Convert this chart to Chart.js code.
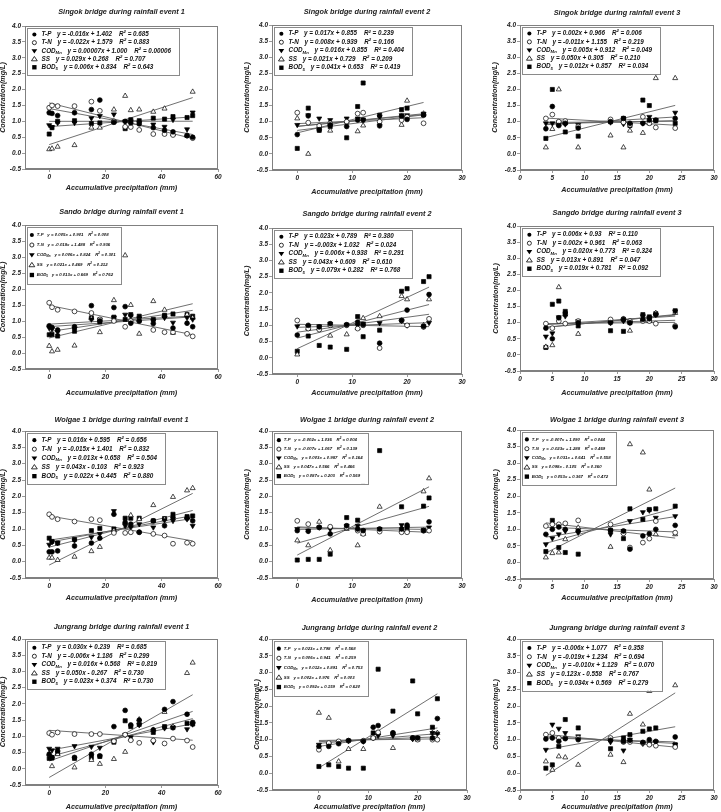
<!DOCTYPE html>
<html>
<head>
<meta charset="utf-8">
<script src="https://cdn.jsdelivr.net/npm/chart.js@4.4.0/dist/chart.umd.min.js"></script>
<style>
body { margin: 0; background: #fff; width: 721px; height: 812px; position: relative; overflow: hidden; }
canvas { position: absolute; }
</style>
</head>
<body>
<script>
// ---- data ----
const titles = [
  'Singok bridge during rainfall event 1', 'Singok bridge during rainfall event 2', 'Singok bridge during rainfall event 3',
  'Sando bridge during rainfall event 1', 'Sangdo bridge during rainfall event 2', 'Sangdo bridge during rainfall event 3',
  'Wolgae 1 bridge during rainfall event 1', 'Wolgae 1 bridge during rainfall event 2', 'Wolgae 1 bridge during rainfall event 3',
  'Jungrang bridge during rainfall event 1', 'Jungrang bridge during rainfall event 2', 'Jungrang bridge during rainfall event 3'
];

const xEvent1 = [0, 1, 3, 9, 15, 18, 23, 27, 29, 32, 37, 41, 44, 49, 51];
const xEvent2a = [0, 2, 4, 6, 9, 11, 12, 15, 19, 20, 23];
const xEvent2 = [0, 2, 4, 6, 9, 11, 12, 15, 19, 20, 23, 24];
const xEvent3 = [4, 5, 6, 7, 9, 14, 16, 17, 19, 20, 21, 24];
const xValues = [xEvent1, xEvent2a, xEvent3, xEvent1, xEvent2, xEvent3, xEvent1, xEvent2, xEvent3, xEvent1, xEvent2, xEvent3];

const xTicksEvent1 = [0, 20, 40, 60];
const xTicksEvent2 = [0, 10, 20, 30];
const xTicksEvent3 = [0, 5, 10, 15, 20, 25, 30];
const yTicks = [-0.5, 0.0, 0.5, 1.0, 1.5, 2.0, 2.5, 3.0, 3.5, 4.0];

const tp = [
  [1.27, 1.25, 1.18, 1.27, 1.37, 1.67, 0.97, 1.0, 0.95, 0.92, 0.8, 0.72, 0.67, 0.55, 0.5],
  [0.6, 1.18, 0.75, 0.9, 0.85, 1.05, 1.05, 0.87, 1.17, 1.07, 1.2],
  [0.78, 1.47, 0.88, 0.95, 0.8, 1.0, 1.1, 0.95, 0.95, 1.05, 1.05, 1.1],
  [0.85, 0.8, 0.72, 0.82, 1.48, 1.0, 1.42, 1.45, 0.93, 1.0, 0.92, 1.15, 0.78, 0.93, 0.82],
  [0.7, 1.0, 0.95, 1.05, 1.02, 1.1, 1.02, 0.45, 1.15, 1.47, 0.97, 1.95],
  [0.83, 0.5, 1.15, 1.3, 1.0, 1.0, 1.1, 1.0, 1.1, 1.12, 1.25, 0.87],
  [0.3, 0.3, 0.33, 0.48, 0.57, 0.72, 1.45, 1.2, 1.15, 0.9, 1.25, 1.1, 1.35, 1.33, 1.25],
  [0.95, 0.93, 1.05, 0.85, 1.1, 1.0, 0.95, 1.0, 1.0, 1.12, 0.95, 1.22],
  [0.85, 1.0, 1.07, 1.0, 0.95, 0.97, 0.95, 0.4, 0.8, 0.87, 1.0, 1.12],
  [0.45, 0.35, 0.55, 0.35, 0.45, 0.4, 1.3, 1.8, 1.35, 1.5, 1.2, 1.83, 2.07, 1.68, 1.43],
  [0.8, 0.8, 0.88, 0.97, 0.95, 1.37, 1.42, 1.2, 1.05, 1.05, 1.05, 1.63],
  [1.02, 1.05, 0.95, 1.03, 1.0, 0.98, 0.95, 0.98, 0.92, 1.0, 0.95, 1.08]
];
const tn = [
  [1.43, 1.5, 1.48, 1.48, 1.62, 1.33, 1.0, 0.83, 0.82, 0.73, 0.6, 0.6, 0.57, 0.55, 0.47],
  [1.28, 0.97, 0.87, 0.95, 1.0, 1.25, 1.28, 1.0, 1.05, 1.15, 0.95],
  [1.1, 1.22, 1.0, 1.02, 0.85, 1.07, 0.98, 0.9, 1.15, 0.95, 0.82, 0.8],
  [1.57, 1.43, 1.35, 1.3, 1.25, 1.05, 1.0, 0.82, 1.0, 1.0, 0.72, 0.65, 0.65, 0.6, 0.52],
  [1.15, 0.9, 0.87, 1.0, 1.0, 0.9, 1.0, 0.3, 1.15, 1.0, 0.95, 1.2],
  [0.97, 0.83, 1.05, 0.97, 1.05, 1.1, 1.12, 1.05, 1.05, 1.05, 0.97, 0.9],
  [1.45, 1.37, 1.3, 1.23, 1.3, 1.27, 0.88, 0.88, 0.9, 0.9, 0.85, 0.8, 0.55, 0.58, 0.55],
  [1.25, 1.15, 1.05, 1.07, 1.05, 0.95, 0.85, 0.92, 0.9, 0.9, 0.95, 0.95],
  [1.1, 1.15, 1.15, 1.18, 1.27, 1.15, 0.88, 0.45, 0.6, 0.72, 1.25, 0.9],
  [1.1, 1.05, 1.12, 1.07, 1.07, 1.07, 0.85, 1.05, 0.88, 0.8, 0.87, 0.78, 0.93, 0.87, 0.67],
  [0.7, 0.9, 0.95, 0.97, 0.97, 1.05, 1.22, 1.2, 1.05, 1.0, 1.0, 1.0],
  [1.15, 1.2, 1.05, 1.05, 1.05, 1.05, 0.93, 0.93, 0.9, 0.85, 0.82, 0.78]
];
const cod = [
  [0.88, 0.82, 0.95, 0.95, 1.1, 1.17, 1.22, 1.0, 1.0, 0.95, 0.9, 0.83, 1.05, 0.75, 1.28],
  [0.9, 1.2, 1.1, 1.05, 1.1, 1.1, 1.07, 1.15, 1.2, 1.2, 1.25],
  [0.95, 0.95, 0.98, 0.92, 0.9, 0.98, 0.93, 0.9, 0.95, 1.15, 1.05, 1.28],
  [0.78, 0.75, 0.65, 0.75, 1.05, 1.05, 1.1, 1.2, 1.15, 1.08, 1.0, 1.1, 0.95, 1.1, 1.05],
  [0.97, 0.95, 0.97, 1.05, 1.02, 1.0, 1.05, 1.07, 1.15, 1.0, 0.97, 1.08],
  [0.57, 0.67, 1.17, 1.2, 1.05, 1.0, 1.05, 1.0, 1.2, 1.15, 1.25, 1.35],
  [0.52, 0.6, 0.57, 0.65, 0.75, 0.85, 1.55, 1.1, 1.05, 1.15, 1.05, 1.27, 1.25, 1.3, 1.1],
  [1.0, 0.95, 1.05, 1.0, 1.1, 1.1, 0.95, 1.0, 1.12, 1.05, 0.98, 1.05],
  [0.55, 0.73, 0.85, 0.95, 0.9, 0.85, 0.95, 1.25, 1.52, 1.57, 1.35, 1.4],
  [0.62, 0.57, 0.62, 0.7, 0.68, 0.65, 0.85, 1.05, 0.97, 1.35, 0.82, 1.25, 1.27, 1.22, 1.37],
  [0.85, 0.85, 0.9, 0.97, 0.95, 1.05, 1.12, 1.12, 1.02, 1.05, 1.2, 1.18],
  [0.7, 1.45, 1.33, 1.2, 1.1, 0.93, 0.68, 1.0, 0.88, 0.88, 0.93, 0.85]
];
const ss = [
  [0.12, 0.14, 0.2, 0.25, 0.8, 0.8, 1.37, 1.8, 1.35, 1.37, 1.3, 1.4, 0.6, 0.55, 1.93],
  [1.1, 0.0, 0.85, 0.72, 1.0, 0.7, 0.88, 0.95, 0.9, 1.65, 1.25],
  [0.2, 0.77, 2.0, 0.95, 0.2, 0.57, 0.2, 0.72, 0.65, 0.95, 2.35, 2.35],
  [0.22, 0.05, 0.1, 0.23, 1.08, 0.65, 1.65, 3.05, 1.5, 0.6, 1.62, 1.35, 0.63, 1.2, 1.1],
  [0.1, 0.9, 0.9, 0.68, 0.72, 0.92, 1.22, 1.28, 1.9, 1.8, 1.0, 1.8],
  [0.25, 0.3, 2.1, 1.25, 0.65, 1.05, 1.1, 0.75, 1.1, 1.05, 1.3, 1.3],
  [0.12, 0.12, 0.05, 0.15, 0.32, 0.45, 0.95, 1.2, 1.42, 1.3, 1.73, 1.3, 1.98, 2.18, 2.25],
  [0.65, 0.5, 1.22, 0.35, 1.0, 0.5, 0.85, 1.68, 0.95, 0.95, 2.15, 2.55],
  [0.15, 0.28, 0.3, 0.7, 1.05, 0.47, 0.92, 3.57, 3.32, 2.2, 0.85, 0.85],
  [0.45, 0.08, 0.45, 0.04, 0.27, 0.15, 0.3, 0.52, 0.92, 1.52, 1.2, 1.75, 1.3, 2.95, 3.27],
  [1.8, 1.65, 0.35, 0.72, 0.72, 1.05, 1.2, 0.75, 1.05, 1.0, 1.2, 1.2],
  [0.35, 0.1, 0.5, 0.47, 0.25, 0.55, 0.33, 1.77, 1.45, 2.45, 2.78, 2.62]
];
const bod = [
  [0.6, 0.8, 1.0, 1.02, 0.93, 0.95, 0.98, 0.77, 1.05, 1.02, 1.1, 1.07, 1.15, 1.12, 1.18],
  [0.17, 1.42, 0.73, 0.85, 0.5, 1.47, 2.2, 1.2, 1.37, 1.42, 1.22],
  [0.48, 2.0, 0.92, 0.68, 0.55, 1.0, 1.1, 0.88, 1.67, 1.5, 1.03, 0.95],
  [0.57, 0.58, 0.53, 0.68, 1.1, 0.97, 1.12, 1.05, 1.2, 1.15, 1.05, 1.18, 1.22, 1.2, 1.15],
  [0.2, 0.67, 0.38, 0.33, 0.26, 1.27, 0.65, 0.85, 2.05, 2.13, 2.35, 2.5],
  [0.23, 1.57, 1.67, 1.35, 0.9, 0.75, 0.73, 1.0, 1.25, 1.18, 1.28, 1.37],
  [0.72, 0.62, 0.57, 0.68, 0.95, 1.02, 1.0, 1.33, 1.33, 1.33, 1.25, 1.32, 1.45, 1.38, 1.4],
  [0.05, 0.07, 0.07, 0.23, 1.35, 1.27, 2.47, 3.4, 1.68, 1.0, 1.7, 1.95],
  [0.33, 1.27, 0.45, 0.3, 0.25, 0.97, 0.72, 1.62, 1.3, 1.6, 1.62, 1.7],
  [0.32, 0.33, 0.48, 0.32, 0.35, 0.38, 0.82, 1.48, 1.3, 1.37, 1.12, 1.3, 1.27, 1.4, 1.38],
  [0.2, 0.25, 0.2, 0.15, 0.15, 1.2, 3.1, 1.85, 2.75, 1.77, 1.37, 2.22],
  [0.15, 0.25, 0.8, 1.6, 1.35, 0.73, 1.05, 1.15, 1.25, 1.32, 1.35, 0.85]
];

// regression fits as printed in each legend: [slope, intercept, R2]
const fitTP = [
  ['-0.016', '1.402', '0.685'], ['0.017', '0.855', '0.239'], ['0.002', '0.966', '0.006'],
  ['0.005', '0.901', '0.008'], ['0.023', '0.789', '0.380'], ['0.006', '0.93', '0.110'],
  ['0.016', '0.595', '0.656'], ['-0.002', '1.036', '0.004'], ['-0.007', '1.090', '0.044'],
  ['0.030', '0.239', '0.685'], ['0.023', '0.798', '0.568'], ['-0.006', '1.077', '0.358']
];
const fitTN = [
  ['-0.022', '1.579', '0.883'], ['0.008', '0.939', '0.166'], ['-0.011', '1.155', '0.219'],
  ['-0.018', '1.488', '0.936'], ['-0.003', '1.032', '0.024'], ['0.002', '0.961', '0.063'],
  ['-0.015', '1.401', '0.832'], ['-0.007', '1.067', '0.139'], ['-0.023', '1.288', '0.469'],
  ['-0.006', '1.186', '0.299'], ['0.006', '0.941', '0.259'], ['-0.019', '1.234', '0.694']
];
const fitCOD = [
  ['0.00007', '1.000', '0.00006'], ['0.016', '0.855', '0.404'], ['0.005', '0.912', '0.049'],
  ['0.006', '0.824', '0.301'], ['0.006', '0.938', '0.291'], ['0.020', '0.773', '0.324'],
  ['0.013', '0.658', '0.504'], ['0.003', '0.987', '0.164'], ['0.031', '0.641', '0.558'],
  ['0.016', '0.568', '0.819'], ['0.012', '0.891', '0.753'], ['-0.010', '1.129', '0.070']
];
const fitSS = [
  ['0.029', '0.268', '0.707'], ['0.021', '0.729', '0.209'], ['0.050', '0.305', '0.210'],
  ['0.021', '0.469', '0.212'], ['0.043', '0.609', '0.610'], ['0.013', '0.891', '0.047'],
  ['0.043', '-0.103', '0.923'], ['0.047', '0.566', '0.466'], ['0.098', '-0.105', '0.360'],
  ['0.050', '-0.267', '0.730'], ['0.002', '0.976', '0.003'], ['0.123', '-0.558', '0.767']
];
const fitBOD = [
  ['0.006', '0.834', '0.643'], ['0.041', '0.653', '0.419'], ['0.012', '0.857', '0.034'],
  ['0.013', '0.669', '0.762'], ['0.079', '0.282', '0.768'], ['0.019', '0.781', '0.092'],
  ['0.022', '0.445', '0.880'], ['0.087', '0.203', '0.569'], ['0.053', '0.367', '0.472'],
  ['0.023', '0.374', '0.730'], ['0.092', '0.159', '0.620'], ['0.034', '0.569', '0.279']
];

const paramNames = [['T-P', ''], ['T-N', ''], ['COD', 'Mn'], ['SS', ''], ['BOD', '5']];

// ---- layout (page coords) ----
// c: canvas [x, y, w, h], p: plot box [l, t, r, b], ty: title y, xt: x title y, yt: y title x
const panels = [
  { c: [0, 0, 240, 205], p: [25, 26, 218, 169], ty: 12, xt: 188, yt: 3, lf: 6.3, lr: 8.2, col: 0 },
  { c: [240, 0, 242, 205], p: [272, 25, 462, 170], ty: 12, xt: 192, yt: 247, lf: 6.3, lr: 8.5, col: 1 },
  { c: [482, 0, 239, 205], p: [520, 25, 714, 170], ty: 13, xt: 190, yt: 495, lf: 6.3, lr: 8.3, col: 2 },
  { c: [0, 205, 240, 200], p: [25, 225, 218, 369], ty: 212, xt: 393, yt: 3, lf: 4.3, lr: 10, col: 0 },
  { c: [240, 205, 242, 200], p: [272, 228, 462, 374], ty: 214, xt: 393, yt: 247, lf: 6.3, lr: 8.5, col: 1 },
  { c: [482, 205, 239, 200], p: [520, 226, 714, 371], ty: 213, xt: 393, yt: 496, lf: 6.3, lr: 8.5, col: 2 },
  { c: [0, 405, 240, 202], p: [25, 431, 218, 578], ty: 420, xt: 598, yt: 3, lf: 6.3, lr: 9, col: 0 },
  { c: [240, 405, 242, 202], p: [272, 431, 462, 578], ty: 420, xt: 600, yt: 247, lf: 4.3, lr: 9, col: 1 },
  { c: [482, 405, 239, 202], p: [520, 430, 714, 579], ty: 420, xt: 598, yt: 496, lf: 4.3, lr: 9.3, col: 2 },
  { c: [0, 607, 240, 205], p: [25, 639, 218, 785], ty: 627, xt: 807, yt: 3, lf: 6.3, lr: 8.5, col: 0 },
  { c: [240, 607, 242, 205], p: [272, 639, 467, 790], ty: 628, xt: 807, yt: 257, lf: 4.3, lr: 9.6, col: 1, xmin: -9.5 },
  { c: [482, 607, 239, 205], p: [520, 639, 714, 790], ty: 628, xt: 807, yt: 496, lf: 6.3, lr: 8.8, col: 2 }
];
const colTicks = [xTicksEvent1, xTicksEvent2, xTicksEvent3];
const colMin = [-8.6, -4.6, 0];
const colMax = [60, 30, 30];

const FONT = '"Liberation Sans", Arial, sans-serif';
Chart.defaults.font.family = FONT;
Chart.defaults.font.style = 'italic';
Chart.defaults.font.weight = 'bold';

const seriesAll = [tp, tn, cod, ss, bod];
const fitsAll = [fitTP, fitTN, fitCOD, fitSS, fitBOD];
const markers = [
  { style: 'circle', r: 2.4, fill: '#000', rot: 0 },
  { style: 'circle', r: 2.4, fill: '#fff', rot: 0 },
  { style: 'triangle', r: 2.9, fill: '#000', rot: 180 },
  { style: 'triangle', r: 2.9, fill: '#fff', rot: 0 },
  { style: 'rect', r: 2.9, fill: '#000', rot: 0 }
];

function eqText(f) {
  const b = f[1].startsWith('-') ? '- ' + f[1].slice(1) : '+ ' + f[1];
  return 'y = ' + f[0] + 'x ' + b;
}

function drawMarker(ctx, k, x, y, r) {
  ctx.beginPath();
  if (k < 2) ctx.arc(x, y, r * 0.85, 0, Math.PI * 2);
  else if (k === 2) { ctx.moveTo(x - r, y - r * 0.6); ctx.lineTo(x + r, y - r * 0.6); ctx.lineTo(x, y + r * 0.9); ctx.closePath(); }
  else if (k === 3) { ctx.moveTo(x - r, y + r * 0.6); ctx.lineTo(x + r, y + r * 0.6); ctx.lineTo(x, y - r * 0.9); ctx.closePath(); }
  else ctx.rect(x - r * 0.75, y - r * 0.75, r * 1.5, r * 1.5);
  if (k === 1 || k === 3) {
    ctx.fillStyle = '#fff'; ctx.fill();
    ctx.strokeStyle = '#000'; ctx.lineWidth = 0.8; ctx.stroke();
  } else {
    ctx.fillStyle = '#000'; ctx.fill();
  }
}

function makePanelPlugin(i, pn) {
  return {
    id: 'panel' + i,
    afterDatasetsDraw(chart) {
      const ctx = chart.ctx;
      const a = chart.chartArea;
      const fs = pn.lf, rh = pn.lr;
      const f = k => `italic bold ${k}px ${FONT}`;
      ctx.save();
      ctx.textBaseline = 'middle';
      // measure rows
      const rows = fitsAll.map((fit, k) => {
        const fr = fit[i];
        ctx.font = f(fs);
        const wMain = ctx.measureText(paramNames[k][0]).width;
        const eq = eqText(fr);
        const wEq = ctx.measureText(eq).width;
        const rest = ' = ' + fr[2];
        const wR = ctx.measureText('R').width, wRest = ctx.measureText(rest).width;
        ctx.font = f(fs * 0.68);
        const wSub = paramNames[k][1] ? ctx.measureText(paramNames[k][1]).width : 0;
        const wSup = ctx.measureText('2').width;
        return { wMain, wSub, eq, wEq, rest, wR, wSup, wRest };
      });
      const bx = a.left + 1.5, by = a.top + 1.5;
      const labelX = bx + fs * 2.4;
      let maxW = 0;
      rows.forEach(r => {
        const w = (labelX - bx) + r.wMain + r.wSub + fs * 0.9 + r.wEq + fs * 1.1 + r.wR + r.wSup + r.wRest;
        maxW = Math.max(maxW, w);
      });
      const bw = maxW + fs * 1.2, bh = rh * 5.7;
      ctx.fillStyle = '#fff';
      ctx.fillRect(bx, by, bw, bh);
      ctx.strokeStyle = '#8a8a8a';
      ctx.lineWidth = 1;
      ctx.strokeRect(Math.round(bx) + 0.5, Math.round(by) + 0.5, Math.round(bw), Math.round(bh));
      rows.forEach((r, k) => {
        const y = by + rh * 0.85 + k * rh;
        drawMarker(ctx, k, bx + fs * 1.25, y, markers[k].r);
        ctx.fillStyle = '#111';
        ctx.textAlign = 'left';
        let x = labelX;
        ctx.font = f(fs);
        ctx.fillText(paramNames[k][0], x, y);
        x += r.wMain;
        if (paramNames[k][1]) {
          ctx.font = f(fs * 0.68);
          ctx.fillText(paramNames[k][1], x, y + fs * 0.3);
          x += r.wSub;
        }
        x += fs * 0.9;
        ctx.font = f(fs);
        ctx.fillText(r.eq, x, y);
        x += r.wEq + fs * 1.1;
        ctx.fillText('R', x, y);
        x += r.wR;
        ctx.font = f(fs * 0.68);
        ctx.fillText('2', x, y - fs * 0.38);
        x += r.wSup;
        ctx.font = f(fs);
        ctx.fillText(r.rest, x, y);
      });
      ctx.restore();
    },
    afterDraw(chart) {
      const ctx = chart.ctx;
      const a = chart.chartArea;
      ctx.save();
      ctx.strokeStyle = '#808080';
      ctx.lineWidth = 1;
      ctx.strokeRect(Math.round(a.left) + 0.5, Math.round(a.top) + 0.5, Math.round(a.right - a.left) - 1, Math.round(a.bottom - a.top) - 1);
      ctx.font = `italic bold 7.3px ${FONT}`;
      ctx.fillStyle = '#222';
      ctx.textAlign = 'center';
      ctx.textBaseline = 'middle';
      ctx.fillText(titles[i], (a.left + a.right) / 2, pn.ty - pn.c[1]);
      ctx.restore();
    }
  };
}

panels.forEach((pn, i) => {
  const [cx, cy, W, H] = pn.c;
  const cv = document.createElement('canvas');
  cv.width = W; cv.height = H;
  cv.style.left = cx + 'px'; cv.style.top = cy + 'px';
  cv.style.width = W + 'px'; cv.style.height = H + 'px';
  document.body.appendChild(cv);
  const L = pn.p[0] - cx, T = pn.p[1] - cy, R = pn.p[2] - cx, B = pn.p[3] - cy;
  const xs = xValues[i];
  const datasets = [];
  seriesAll.forEach((arr, k) => {
    datasets.push({
      label: paramNames[k].join(''),
      data: xs.map((x, j) => ({ x: x, y: arr[i][j] })),
      pointStyle: markers[k].style,
      pointRadius: markers[k].r,
      rotation: markers[k].rot,
      backgroundColor: markers[k].fill,
      borderColor: '#000',
      borderWidth: 0.7
    });
  });
  fitsAll.forEach((fit, k) => {
    const m = parseFloat(fit[i][0]), b = parseFloat(fit[i][1]);
    const x0 = xs[0], x1 = xs[xs.length - 1];
    datasets.push({
      label: paramNames[k].join('') + ' fit',
      data: [{ x: x0, y: m * x0 + b }, { x: x1, y: m * x1 + b }],
      showLine: true,
      borderColor: '#606060',
      borderWidth: 0.9,
      pointRadius: 0,
      fill: false
    });
  });
  const tickFont = { size: 6.5, style: 'italic', weight: 'bold' };
  const titleFont = { size: 7.2, style: 'italic', weight: 'bold' };
  const lh = 7.2 * 1.2 / 2;
  new Chart(cv, {
    type: 'scatter',
    data: { datasets: datasets },
    options: {
      responsive: false,
      animation: false,
      devicePixelRatio: 1,
      layout: { padding: { left: 0, bottom: 0, top: T, right: W - R } },
      plugins: { legend: { display: false }, tooltip: { enabled: false } },
      scales: {
        x: {
          type: 'linear',
          min: pn.xmin !== undefined ? pn.xmin : colMin[pn.col],
          max: colMax[pn.col],
          afterBuildTicks: s => { s.ticks = colTicks[pn.col].map(v => ({ value: v })); },
          afterFit: s => { s.height = H - B; },
          grid: { drawOnChartArea: false, drawTicks: true, tickLength: 3, color: '#808080', lineWidth: 0.8 },
          border: { display: true, color: '#808080', width: 1 },
          ticks: { autoSkip: false, maxRotation: 0, padding: 1, color: '#222', font: tickFont },
          title: {
            display: true, text: 'Accumulative precipitation (mm)', color: '#222', font: titleFont,
            padding: { top: 0, bottom: H - (pn.xt - cy) - lh }
          }
        },
        y: {
          type: 'linear',
          min: -0.5,
          max: 4.0,
          afterBuildTicks: s => { s.ticks = yTicks.map(v => ({ value: v })); },
          afterFit: s => { s.width = L; },
          grid: { drawOnChartArea: false, drawTicks: true, tickLength: 3, color: '#808080', lineWidth: 0.8 },
          border: { display: true, color: '#808080', width: 1 },
          ticks: { autoSkip: false, padding: 1, color: '#222', font: tickFont, callback: v => v.toFixed(1) },
          title: {
            display: true, text: 'Concentration(mg/L)', color: '#222', font: titleFont,
            padding: { top: (pn.yt - cx) - lh, bottom: 0 }
          }
        }
      }
    },
    plugins: [makePanelPlugin(i, pn)]
  });
});
</script>
</body>
</html>
